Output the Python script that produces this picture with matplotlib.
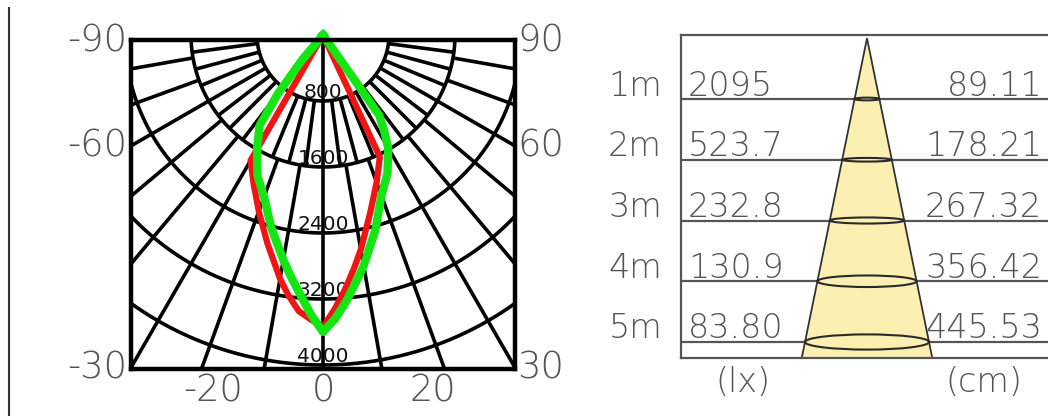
import numpy as np
import matplotlib.pyplot as plt
from matplotlib.patches import Polygon, Ellipse
from matplotlib.lines import Line2D

# polar light distribution, intensity in cd, angle from nadir (left half negative)
angles = [-90, -45, -40, -37.5, -35, -30, -25, -20, -15, -10, -7.5, -5, -2.5, 0,
          2.5, 5, 7.5, 10, 15, 20, 25, 30, 32.5, 35, 37.5, 40, 45, 90]
green_cd = [0, 0, 400, 900, 1340, 1600, 1880, 2090, 2420, 2770, 2960, 3160, 3390, 3600,
            3440, 3240, 3030, 2840, 2450, 2070, 1850, 1580, 1380, 1190, 0, 0, 0, 0]
red_cd = [0, 0, 0, 0, 0, 1755, 1990, 2275, 2610, 3000, 3190, 3360, 3450, 3540,
          3320, 3090, 2860, 2640, 2220, 1900, 1630, 0, 0, 0, 0, 0, 0, 0]
rings = [800, 1600, 2400, 3200, 4000]
side_ticks = [90, 60, 30]
bottom_ticks = [-20, 0, 20]

# illuminance cone table
distances = [1, 2, 3, 4, 5]
dist_labels = ['1m', '2m', '3m', '4m', '5m']
lux = ['2095', '523.7', '232.8', '130.9', '83.80']
diameter_cm = [89.11, 178.21, 267.32, 356.42, 445.53]

W, H = 1048, 416
fig = plt.figure(figsize=(W / 100, H / 100), dpi=100)


def fx(px):
    return px / W


def fy(py):
    return 1 - py / H


lab = dict(fontsize=26.5, color='#555555', fontweight='light')

# ---------------- polar panel ----------------
pl, pr, pt, pb = 131, 515, 40, 369     # frame in pixels
ox, oy = 323, 35                       # grid origin in pixels
k = 800 / 66                           # cd per pixel

ax = fig.add_axes([fx(pl), fy(pb), (pr - pl) / W, (pb - pt) / H])
ax.set_xlim((pl - ox) * k, (pr - ox) * k)
ax.set_ylim(-(pb - oy) * k, -(pt - oy) * k)
ax.set_xticks([])
ax.set_yticks([])
for s in ax.spines.values():
    s.set_linewidth(3.2)
    s.set_color('black')
    s.set_zorder(4)

gl = dict(color='black', lw=2.6, solid_capstyle='butt', zorder=1)
th = np.radians(np.linspace(-90, 90, 361))
for r in rings:
    ax.plot(r * np.sin(th), -r * np.cos(th), **gl)
ax.plot([0, 0], [0, -rings[-1] * 1.2], **gl)


def spoke(a, r0, r1):
    t = np.radians(a)
    ax.plot([r0 * np.sin(t), r1 * np.sin(t)],
            [-r0 * np.cos(t), -r1 * np.cos(t)], **gl)


for a in np.arange(7.5, 90, 7.5):
    for sg in (-1, 1):
        spoke(sg * a, rings[0], rings[1])
for a in range(10, 90, 10):
    for sg in (-1, 1):
        spoke(sg * a, rings[1], 9000)

for r in rings:
    ax.text(0, -r + 97, str(r), ha='center', va='center',
            fontsize=14.5, color='#111', zorder=2)

t = np.radians(angles)
for vals, col, lw in ((red_cd, '#f01414', 4.5), (green_cd, '#14e614', 6)):
    v = np.array(vals, dtype=float)
    ax.plot(v * np.sin(t), -v * np.cos(t), color=col, lw=lw,
            solid_joinstyle='round', zorder=3, clip_on=False)

x_edge = (pr - ox) * k
y0, y1 = ax.get_ylim()
for a in side_ticks:
    y = -x_edge / np.tan(np.radians(a)) if a < 90 else 0
    y = min(max(y, y0), y1)
    ax.text(-x_edge - 4 * k, y, str(-a), ha='right', va='center',
            clip_on=False, **lab)
    ax.text(x_edge + 2 * k, y, str(a), ha='left', va='center',
            clip_on=False, **lab)

for tv in bottom_ticks:
    fig.text(fx(ox + tv * 5.5), fy(390), str(tv), ha='center', va='center', **lab)

# ---------------- cone table ----------------
tl, tr, tt, tb = 681, 1048, 35, 358
cx, ap = 867, 38.25                    # cone axis and apex in pixels
cm_px = diameter_cm[-1] / 2 / 62
row_px = 60.75

ax2 = fig.add_axes([fx(tl), fy(tb), (tr - tl) / W, (tb - tt) / H])
ax2.set_xlim((tl - cx) * cm_px, (tr - cx) * cm_px)
ax2.set_ylim((tb - ap) / row_px, (tt - ap) / row_px)
ax2.set_xticks([])
ax2.set_yticks([])
ax2.spines['right'].set_visible(False)
for side in ('left', 'top', 'bottom'):
    ax2.spines[side].set_linewidth(1.6)
    ax2.spines[side].set_color('#555')

for d in distances:
    ax2.axhline(d, color='#555', lw=1.6, zorder=1)

slope = diameter_cm[-1] / 2 / distances[-1]
yb = ax2.get_ylim()[0]
ax2.add_patch(Polygon([(-slope * yb, yb), (0, 0), (slope * yb, yb)], closed=True,
                      fc='#fbf0b2', ec='#333', lw=1.3, zorder=2))
ell_h = [0.045, 0.06, 0.1, 0.19, 0.25]
for d, dia, h in zip(distances, diameter_cm, ell_h):
    ax2.add_patch(Ellipse((0, d), dia, h, fill=False, ec='#2a2a2a', lw=1.5, zorder=3))

tk = dict(fontsize=24, color='#555', fontweight='light')
for d, dl, lx, dia in zip(distances, dist_labels, lux, diameter_cm):
    yb_px = ap + d * row_px - 3.5
    fig.text(fx(662), fy(yb_px), dl, ha='right', va='baseline', **tk)
    fig.text(fx(688), fy(yb_px), lx, ha='left', va='baseline', **tk)
    fig.text(fx(1042), fy(yb_px), f'{dia:.2f}', ha='right', va='baseline', **tk)

fig.text(fx(743), fy(383), '(lx)', ha='center', va='center', **tk)
fig.text(fx(984), fy(383), '(cm)', ha='center', va='center', **tk)

fig.add_artist(Line2D([fx(9), fx(9)], [0, fy(8)], color='#333', lw=1.5))

fig.savefig('out.png', dpi=100)
